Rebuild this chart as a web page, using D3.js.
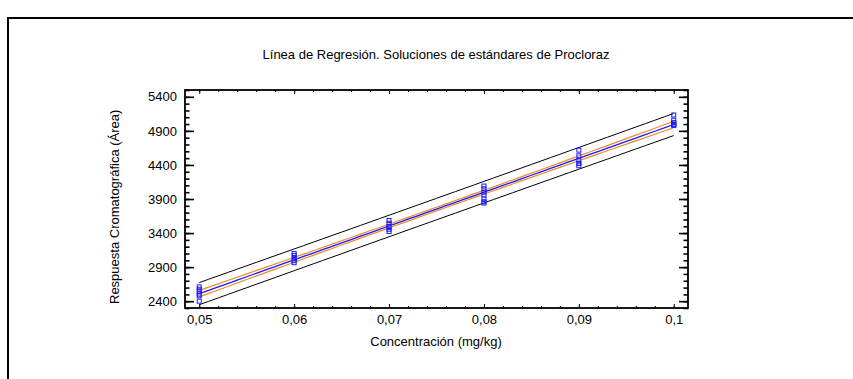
<!DOCTYPE html>
<html>
<head>
<meta charset="utf-8">
<script src="https://cdn.jsdelivr.net/npm/d3@7"></script>
<style>
  html, body { margin: 0; padding: 0; background: #fff; }
  svg { display: block; font-family: "Liberation Sans", Arial, sans-serif; }
</style>
</head>
<body>
<svg id="chart" width="853" height="379"></svg>
<script>
// Concentration levels (mg/kg) and measured chromatographic areas
const concentrations = [0.05, 0.06, 0.07, 0.08, 0.09, 0.1];
const areas005 = [2610, 2575, 2540, 2505, 2480, 2400];
const areas006 = [3100, 3070, 3025, 2995, 2965];
const areas007 = [3584, 3544, 3496, 3456, 3423];
const areas008 = [4090, 4050, 4000, 3960, 3900, 3860, 3840];
const areas009 = [4617, 4534, 4461, 4421, 4388];
const areas010 = [5133, 5056, 5021, 4997, 4990, 4980];
const yTicks = [2400, 2900, 3400, 3900, 4400, 4900, 5400];
const xTicks = [0.05, 0.06, 0.07, 0.08, 0.09, 0.1];

const title = "Línea de Regresión. Soluciones de estándares de Procloraz";
const xTitle = "Concentración (mg/kg)";
const yTitle = "Respuesta Cromatográfica (Área)";

const groups = [areas005, areas006, areas007, areas008, areas009, areas010];
const points = [];
groups.forEach((g, i) => g.forEach(v => points.push({x: concentrations[i], y: v})));

// Least-squares fit with 95% confidence and prediction limits
const n = points.length;
const xm = d3.mean(points, d => d.x), ym = d3.mean(points, d => d.y);
const sxx = d3.sum(points, d => (d.x - xm) ** 2);
const sxy = d3.sum(points, d => (d.x - xm) * (d.y - ym));
const slope = sxy / sxx, intercept = ym - slope * xm;
const s = Math.sqrt(d3.sum(points, d => (d.y - intercept - slope * d.x) ** 2) / (n - 2));
const tval = 2.037;
const xs = d3.range(0, 51).map(i => 0.05 + i * 0.001);
const fit = xs.map(x => ({x, y: intercept + slope * x,
  ci: tval * s * Math.sqrt(1 / n + (x - xm) ** 2 / sxx),
  pi: tval * s * Math.sqrt(1 + 1 / n + (x - xm) ** 2 / sxx)}));

const svg = d3.select("#chart");
const L = 185, R = 688, T = 90, B = 308;
const FS = 13;
const x = d3.scaleLinear().domain([0.0485, 0.1015]).range([L, R]);
const y = d3.scaleLinear().domain([2300, 5500]).range([B, T]);
const loc = d3.formatLocale({decimal: ",", thousands: ".", grouping: [3], currency: ["", ""]});
const fx = v => loc.format("~g")(v);

// Outer frame
svg.append("path").attr("d", "M853,18 H8 V379").attr("fill", "none")
  .attr("stroke", "#000").attr("stroke-width", 2);

svg.append("text").attr("x", 436).attr("y", 59).attr("text-anchor", "middle")
  .attr("font-size", FS).text(title);

// Bands and fitted line
const line = acc => d3.line().x(d => x(d.x)).y(acc);
const plot = svg.append("g");
plot.append("path").datum(fit).attr("d", line(d => y(d.y + d.pi)))
  .attr("fill", "none").attr("stroke", "#000").attr("stroke-width", 1);
plot.append("path").datum(fit).attr("d", line(d => y(d.y - d.pi)))
  .attr("fill", "none").attr("stroke", "#000").attr("stroke-width", 1);
plot.append("path").datum(fit).attr("d", line(d => y(d.y + d.ci)))
  .attr("fill", "none").attr("stroke", "#f08a24").attr("stroke-width", 1.2);
plot.append("path").datum(fit).attr("d", line(d => y(d.y - d.ci)))
  .attr("fill", "none").attr("stroke", "#f08a24").attr("stroke-width", 1.2);
plot.append("path").datum(fit).attr("d", line(d => y(d.y)))
  .attr("fill", "none").attr("stroke", "#1a1aff").attr("stroke-width", 1.3);

plot.selectAll("rect.pt").data(points).join("rect").attr("class", "pt")
  .attr("x", d => x(d.x) - 2).attr("y", d => y(d.y) - 2)
  .attr("width", 4).attr("height", 4)
  .attr("fill", "none").attr("stroke", "#1a1aff").attr("stroke-width", 1);

// Axes: ticks point inward on all four sides
const xMinor = d3.range(0, 26).map(i => 0.05 + i * 0.002);
const yMinor = d3.range(2300, 5501, 100);
const axisStyle = g => { g.select(".domain").remove(); g.selectAll("line").attr("stroke", "#000"); };

svg.append("g").attr("transform", `translate(0,${B})`)
  .call(d3.axisBottom(x).tickValues(xMinor).tickSize(-2).tickFormat(""))
  .call(axisStyle).selectAll("line").attr("stroke-width", 1);
svg.append("g").attr("transform", `translate(0,${B})`)
  .call(d3.axisBottom(x).tickValues(xTicks).tickSize(-4).tickPadding(7).tickFormat(fx))
  .call(axisStyle)
  .call(g => g.selectAll("text").attr("font-size", FS).attr("fill", "#000"));
svg.append("g").attr("transform", `translate(0,${T})`)
  .call(d3.axisTop(x).tickValues(xMinor).tickSize(-2).tickFormat(""))
  .call(axisStyle);
svg.append("g").attr("transform", `translate(0,${T})`)
  .call(d3.axisTop(x).tickValues(xTicks).tickSize(-4).tickFormat(""))
  .call(axisStyle);

svg.append("g").attr("transform", `translate(${L},0)`)
  .call(d3.axisLeft(y).tickValues(yMinor).tickSize(-4.5).tickFormat(""))
  .call(axisStyle).selectAll("line").attr("stroke-width", 1.6);
svg.append("g").attr("transform", `translate(${L},0)`)
  .call(d3.axisLeft(y).tickValues(yTicks).tickSize(-9).tickPadding(8).tickFormat(d3.format("d")))
  .call(axisStyle)
  .call(g => g.selectAll("line").attr("stroke-width", 1.6))
  .call(g => g.selectAll("text").attr("font-size", FS).attr("fill", "#000"));
svg.append("g").attr("transform", `translate(${R},0)`)
  .call(d3.axisRight(y).tickValues(yMinor).tickSize(-4.5).tickFormat(""))
  .call(axisStyle).selectAll("line").attr("stroke-width", 1.6);
svg.append("g").attr("transform", `translate(${R},0)`)
  .call(d3.axisRight(y).tickValues(yTicks).tickSize(-9).tickFormat(""))
  .call(axisStyle).selectAll("line").attr("stroke-width", 1.6);

// Plot frame
svg.append("rect").attr("x", L).attr("y", T).attr("width", R - L).attr("height", B - T)
  .attr("fill", "none").attr("stroke", "#000").attr("stroke-width", 1.8);

svg.append("text").attr("x", 436).attr("y", 346).attr("text-anchor", "middle")
  .attr("font-size", FS).text(xTitle);
svg.append("text").attr("transform", `translate(119,304) rotate(-90)`)
  .attr("text-anchor", "start").attr("font-size", FS).text(yTitle);
</script>
</body>
</html>
